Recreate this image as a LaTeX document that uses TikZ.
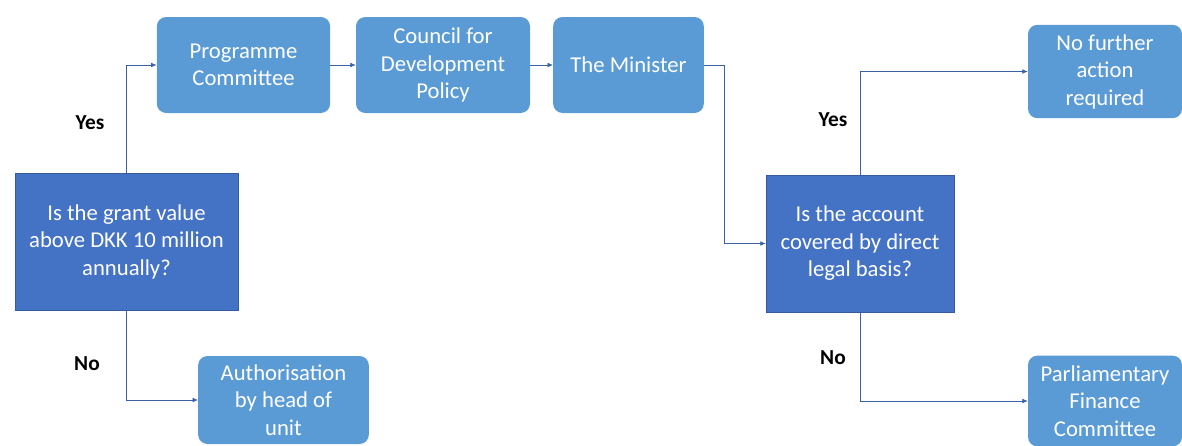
\documentclass[tikz,border=0pt]{standalone}
\usepackage{fontspec}
\setmainfont{Carlito}
\usetikzlibrary{arrows.meta}

\definecolor{boxblue}{HTML}{5B9BD5}
\definecolor{askblue}{HTML}{4472C4}

\tikzstyle{box} = [fill=boxblue, rounded corners=7pt, text=white, align=center,
  font=\fontsize{17}{20.6}\selectfont, inner sep=2pt]
\tikzstyle{decision} = [fill=askblue, draw=askblue!80!black, line width=0.4pt, text=white,
  align=center, font=\fontsize{17}{20.6}\selectfont, inner sep=2pt]
\tikzstyle{answer} = [font=\fontsize{16}{18}\selectfont\bfseries]
\tikzstyle{link} = [draw=askblue!85!black, line width=0.5pt, -{Latex[length=4pt,width=3.5pt]}]

\begin{document}
\begin{tikzpicture}[x=0.75pt, y=-0.75pt]
    \useasboundingbox (0,0) rectangle (1182,446);

    % questions
    \node[decision, minimum width=167pt, minimum height=103pt] (grant) at (126.5,241.5)
      {Is the grant value\\above DKK 10 million\\annually?};
    \node[decision, minimum width=141pt, minimum height=103pt] (legal) at (860,243.5)
      {Is the account\\covered by direct\\legal basis?};

    % approval chain
    \node[box, minimum width=130pt, minimum height=72pt] (programme) at (243.5,65)
      {Programme\\Committee};
    \node[box, minimum width=130.5pt, minimum height=72pt] (council) at (443,65)
      {Council for\\Development\\Policy};
    \node[box, minimum width=113pt, minimum height=72pt] (minister) at (628.5,65)
      {The Minister};
    \node[box, minimum width=128pt, minimum height=66pt] (head) at (283.5,400)
      {Authorisation\\by head of\\unit};

    % outcomes
    \node[box, minimum width=115.5pt, minimum height=70pt] (noaction) at (1105,71.5)
      {No further\\action\\required};
    \node[box, minimum width=115.5pt, minimum height=68pt] (finance) at (1105,401)
      {Parliamentary\\Finance\\Committee};

    % answers
    \node[answer] (yes1) at (90,123) {Yes};
    \node[answer] (no1) at (87,364) {No};
    \node[answer] (yes2) at (833,120) {Yes};
    \node[answer] (no2) at (833,358) {No};

    \coordinate (bend) at (724,65);

    \draw[link] (grant.north) |- (programme.west);
    \draw[link] (grant.south) |- (head.west);
    \draw[link] (programme.east) -- (council.west);
    \draw[link] (council.east) -- (minister.west);
    \draw[link] (minister.east) -- (bend) |- (legal.west);
    \draw[link] (legal.north) |- (noaction.west);
    \draw[link] (legal.south) |- (finance.west);
  \end{tikzpicture}
\end{document}
